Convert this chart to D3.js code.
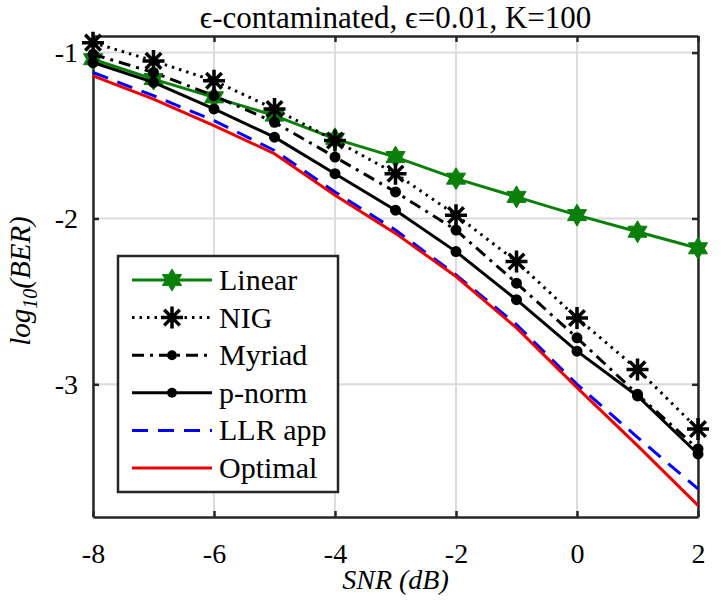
<!DOCTYPE html>
<html><head><meta charset="utf-8">
<script src="https://cdn.jsdelivr.net/npm/d3@7"></script>
<style>body{margin:0;background:#fff}svg{display:block}</style>
</head><body><div id="chart"></div>
<script>
const snr = [-8,-7,-6,-5,-4,-3,-2,-1,0,1,2];
const linearBER  = [-1.04,-1.16,-1.27,-1.38,-1.52,-1.63,-1.76,-1.87,-1.98,-2.08,-2.18];
const nigBER     = [-0.94,-1.05,-1.17,-1.34,-1.53,-1.73,-1.98,-2.26,-2.60,-2.91,-3.27];
const myriadBER  = [-1.01,-1.12,-1.26,-1.42,-1.63,-1.84,-2.07,-2.39,-2.72,-3.06,-3.39];
const pnormBER   = [-1.06,-1.18,-1.34,-1.51,-1.73,-1.95,-2.20,-2.49,-2.80,-3.07,-3.42];
const llrBER     = [-1.12,-1.26,-1.41,-1.59,-1.84,-2.07,-2.34,-2.64,-3.00,-3.32,-3.63];
const optimalBER = [-1.14,-1.28,-1.44,-1.61,-1.86,-2.09,-2.35,-2.66,-3.02,-3.37,-3.73];
const seriesNames = ["Linear","NIG","Myriad","p-norm","LLR app","Optimal"];
const xTicks = [-8,-6,-4,-2,0,2];
const yTicks = [-1,-2,-3];
const titleText = "\u03F5-contaminated, \u03F5=0.01, K=100";

const series = [
  {name:seriesNames[0], values:linearBER,  color:"#0a800a", dash:null, marker:"hex"},
  {name:seriesNames[1], values:nigBER,     color:"#000", dash:"2.5,5", marker:"ast"},
  {name:seriesNames[2], values:myriadBER,  color:"#000", dash:"12,6,3,6", marker:"dot"},
  {name:seriesNames[3], values:pnormBER,   color:"#000", dash:null, marker:"dot"},
  {name:seriesNames[4], values:llrBER,     color:"#0000ff", dash:"16,10", marker:null},
  {name:seriesNames[5], values:optimalBER, color:"#ee0000", dash:null, marker:null}
];

const FONT="'Liberation Serif'";
const W=721,H=604, m={l:93,r:23,t:36,b:87};
const svg=d3.select("#chart").append("svg").attr("width",W).attr("height",H).attr("font-family",FONT);
const x=d3.scaleLinear().domain([-8,2]).range([m.l,W-m.r]);
const y=d3.scaleLinear().domain([-3.8,-0.9]).range([H-m.b,m.t]);

const g=svg.append("g");
g.selectAll(".gx").data(xTicks).join("line").attr("x1",d=>x(d)).attr("x2",d=>x(d)).attr("y1",m.t).attr("y2",H-m.b).attr("stroke","#dcdcdc").attr("stroke-width",2);
g.selectAll(".gy").data(yTicks).join("line").attr("y1",d=>y(d)).attr("y2",d=>y(d)).attr("x1",m.l).attr("x2",W-m.r).attr("stroke","#dcdcdc").attr("stroke-width",2);

const fmt=d=>String(d);
const axB=d3.axisBottom(x).tickValues(xTicks).tickSizeInner(-6).tickSizeOuter(0).tickPadding(26).tickFormat(fmt);
const axL=d3.axisLeft(y).tickValues(yTicks).tickSizeInner(-6).tickSizeOuter(0).tickPadding(15).tickFormat(fmt);
const axT=d3.axisTop(x).tickValues(xTicks).tickSizeInner(-6).tickSizeOuter(0).tickFormat("");
const axR=d3.axisRight(y).tickValues(yTicks).tickSizeInner(-6).tickSizeOuter(0).tickFormat("");
function style(sel){sel.attr("font-family",FONT).attr("font-size",28);sel.selectAll("path").attr("stroke","#262626").attr("stroke-width",2.5);sel.selectAll("line").attr("stroke","#262626").attr("stroke-width",2.5);sel.selectAll("text").attr("fill","#000").attr("font-family",FONT);}
svg.append("g").attr("transform",`translate(0,${H-m.b})`).call(axB).call(style);
svg.append("g").attr("transform",`translate(${m.l},0)`).call(axL).call(style);
svg.append("g").attr("transform",`translate(0,${m.t})`).call(axT).call(style);
svg.append("g").attr("transform",`translate(${W-m.r},0)`).call(axR).call(style);

function hexPath(r){const p=[];for(let i=0;i<12;i++){const a=Math.PI/2+i*Math.PI/6;const rr=i%2===0?r:r*0.58;p.push([rr*Math.cos(a),-rr*Math.sin(a)]);}return "M"+p.map(q=>q.join(",")).join("L")+"Z";}
function astPath(r){let s="";for(let i=0;i<4;i++){const a=i*Math.PI/4;s+=`M${r*Math.cos(a)},${r*Math.sin(a)}L${-r*Math.cos(a)},${-r*Math.sin(a)}`;}return s;}
function drawMarker(sel,type,color,cx,cy,scale){
  scale=scale||1;
  if(type==="hex") sel.append("path").attr("d",hexPath(11*scale)).attr("transform",`translate(${cx},${cy})`).attr("fill",color).attr("stroke",color).attr("stroke-width",1);
  else if(type==="ast") sel.append("path").attr("d",astPath(11*scale)).attr("transform",`translate(${cx},${cy})`).attr("fill","none").attr("stroke",color).attr("stroke-width",3.5);
  else if(type==="dot") sel.append("circle").attr("cx",cx).attr("cy",cy).attr("r",5.5*scale).attr("fill",color);
}

const line=d3.line().x((d,i)=>x(snr[i])).y(d=>y(d));
const plot=svg.append("g");
series.forEach(s=>{
  const p=plot.append("path").datum(s.values).attr("d",line).attr("fill","none").attr("stroke",s.color).attr("stroke-width",3);
  if(s.dash) p.attr("stroke-dasharray",s.dash);
  if(s.marker) s.values.forEach((v,i)=>drawMarker(plot,s.marker,s.color,x(snr[i]),y(v)));
});

const lg=svg.append("g");
const lx=118, ly=256, lw=220, lh=236;
lg.append("rect").attr("x",lx).attr("y",ly).attr("width",lw).attr("height",lh).attr("fill","#fff").attr("stroke","#262626").attr("stroke-width",2.5);
series.forEach((s,i)=>{
  const yy=ly+24+i*37.6;
  const l=lg.append("line").attr("x1",lx+14).attr("x2",lx+94).attr("y1",yy).attr("y2",yy).attr("stroke",s.color).attr("stroke-width",3);
  if(s.dash) l.attr("stroke-dasharray",s.dash);
  if(s.marker) drawMarker(lg,s.marker,s.color,lx+54,yy,s.marker==="dot"?0.9:1);
  lg.append("text").attr("x",lx+101).attr("y",yy+10).attr("font-family",FONT).attr("font-size",30).text(s.name);
});

svg.append("text").attr("x",(m.l+W-m.r)/2).attr("y",28).attr("text-anchor","middle").attr("font-family",FONT).attr("font-size",31).text(titleText);
svg.append("text").attr("x",(m.l+W-m.r)/2).attr("y",589).attr("text-anchor","middle").attr("font-family",FONT).attr("font-size",28).attr("font-style","italic").text("SNR (dB)");
const yl=svg.append("text").attr("transform",`translate(30,281) rotate(-90)`).attr("text-anchor","middle").attr("font-family",FONT).attr("font-size",29).attr("font-style","italic");
yl.append("tspan").text("log");
yl.append("tspan").attr("font-size",20).attr("dy",7).text("10");
yl.append("tspan").attr("dy",-7).text("(BER)");
</script></body></html>
